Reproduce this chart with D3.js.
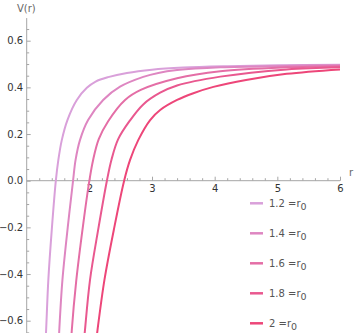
<!DOCTYPE html>
<html>
<head>
<meta charset="utf-8">
<script src="https://cdn.jsdelivr.net/npm/d3@7"></script>
<style>
  body { margin: 0; background: #fff; }
  svg { display: block; font-family: "DejaVu Sans", sans-serif; }
</style>
</head>
<body>
<div id="chart"></div>
<script>
// r0 values, one curve each
const r0s = [1.2, 1.4, 1.6, 1.8, 2]
const colors = ["#d9a0da", "#de86c1", "#e46ea6", "#e9588f", "#ed4679"]

// points: [r, V(r)]
const curve12 = [[1.295,-0.72],[1.31,-0.64],[1.345,-0.426],[1.40,-0.211],[1.465,0],[1.505,0.089],[1.56,0.174],[1.65,0.26],[1.80,0.346],[1.96,0.398],[2.10,0.425],[2.30,0.444],[2.60,0.462],[3.0,0.476],[3.5,0.485],[4.2,0.491],[5.0,0.495],[6,0.497]]
const curve14 = [[1.50,-0.76],[1.52,-0.64],[1.57,-0.426],[1.655,-0.20],[1.74,0],[1.78,0.089],[1.85,0.174],[1.98,0.26],[2.22,0.346],[2.49,0.403],[2.86,0.445],[3.10,0.462],[3.40,0.474],[4.09,0.486],[5.15,0.492],[6,0.495]]
const curve16 = [[1.70,-0.74],[1.72,-0.64],[1.79,-0.43],[1.90,-0.19],[2.0,0],[2.06,0.089],[2.15,0.178],[2.30,0.255],[2.57,0.346],[2.82,0.389],[3.40,0.439],[4.09,0.469],[5.15,0.486],[6,0.491]]
const curve18 = [[1.91,-0.70],[1.93,-0.64],[2.01,-0.426],[2.14,-0.211],[2.28,0],[2.355,0.092],[2.46,0.178],[2.64,0.255],[2.86,0.327],[3.13,0.377],[3.40,0.408],[4.09,0.446],[5.15,0.477],[6,0.486]]
const curve20 = [[2.11,-0.685],[2.13,-0.64],[2.24,-0.426],[2.39,-0.211],[2.555,0],[2.65,0.089],[2.78,0.174],[2.97,0.26],[3.13,0.303],[3.40,0.346],[3.66,0.375],[3.98,0.402],[4.5,0.432],[5.15,0.458],[6,0.477]]
const curves = [curve12, curve14, curve16, curve18, curve20]

const xMajor = [2, 3, 4, 5, 6]
const yMajor = [-0.6, -0.4, -0.2, 0, 0.2, 0.4, 0.6]

const width = 354
const height = 333

const x = d3.scaleLinear().domain([1, 6]).range([26.7, 340])
const y = d3.scaleLinear().domain([-0.6, 0.6]).range([320.7, 40.7])
const yBottom = -0.656
const yTop = 0.697

const svg = d3.select("#chart").append("svg")
  .attr("width", width)
  .attr("height", height)

svg.append("defs").append("clipPath").attr("id", "plot")
  .append("rect")
  .attr("x", x(1)).attr("y", y(yTop))
  .attr("width", x(6) - x(1) + 2)
  .attr("height", y(yBottom) - y(yTop))

const axisColor = "#a6a6a6"

// minor ticks
const xMinor = d3.range(12, 60, 2).map(d => d / 10).filter(d => d % 1 !== 0)
const yMinor = d3.range(-65, 70, 5).map(d => d / 100).filter(d => Math.round(d * 100) % 20 !== 0)

svg.append("g")
  .attr("transform", `translate(0,${y(0)})`)
  .call(d3.axisBottom(x).tickValues(xMinor).tickSizeInner(-2.5).tickSizeOuter(0).tickFormat(""))
  .call(g => g.select(".domain").remove())
  .call(g => g.selectAll("line").attr("stroke", axisColor))

svg.append("g")
  .attr("transform", `translate(${x(1)},0)`)
  .call(d3.axisLeft(y).tickValues(yMinor).tickSizeInner(-2.5).tickSizeOuter(0).tickFormat(""))
  .call(g => g.select(".domain").remove())
  .call(g => g.selectAll("line").attr("stroke", axisColor))

// major ticks
const gx = svg.append("g")
  .attr("transform", `translate(0,${y(0)})`)
  .call(d3.axisBottom(x).tickValues(xMajor).tickSizeInner(-4).tickSizeOuter(0).tickPadding(4).tickFormat(d3.format("d")))
gx.select(".domain").remove()
gx.selectAll("line").attr("stroke", axisColor)
gx.selectAll("text").attr("font-size", 10).attr("fill", "#333").attr("font-family", "DejaVu Sans")

const gy = svg.append("g")
  .attr("transform", `translate(${x(1)},0)`)
  .call(d3.axisLeft(y).tickValues(yMajor).tickSizeInner(-4).tickSizeOuter(0).tickPadding(3.5)
    .tickFormat(d => d3.format(".1f")(d)))
gy.select(".domain").remove()
gy.selectAll("line").attr("stroke", axisColor)
gy.selectAll("text").attr("font-size", 10).attr("fill", "#333").attr("font-family", "DejaVu Sans")

// axis lines
svg.append("line")
  .attr("x1", x(1)).attr("x2", x(6))
  .attr("y1", y(0)).attr("y2", y(0))
  .attr("stroke", axisColor)
svg.append("line")
  .attr("x1", x(1)).attr("x2", x(1))
  .attr("y1", y(yBottom)).attr("y2", y(yTop))
  .attr("stroke", axisColor)

// axis labels
svg.append("text")
  .attr("x", 17).attr("y", 12)
  .attr("font-size", 10).attr("fill", "#666")
  .text("V(r)")
svg.append("text")
  .attr("x", 349).attr("y", 176)
  .attr("font-size", 10).attr("fill", "#666")
  .text("r")

// curves
const line = d3.line()
  .x(d => x(d[0]))
  .y(d => y(d[1]))
  .curve(d3.curveCatmullRom.alpha(0.5))

svg.append("g")
  .attr("clip-path", "url(#plot)")
  .selectAll("path")
  .data(curves)
  .enter()
  .append("path")
  .attr("d", line)
  .attr("fill", "none")
  .attr("stroke", (d, i) => colors[i])
  .attr("stroke-width", 2)

// legend
const legend = svg.append("g")
  .selectAll("g")
  .data(r0s)
  .enter()
  .append("g")
  .attr("transform", (d, i) => `translate(250,${203.3 + i * 30})`)

legend.append("line")
  .attr("x1", 0).attr("x2", 13)
  .attr("stroke", (d, i) => colors[i])
  .attr("stroke-width", 2.5)

const lt = legend.append("text")
  .attr("x", 19).attr("y", 3.5)
  .attr("font-size", 10).attr("fill", "#555")
lt.append("tspan").text(d => d + " =r")
lt.append("tspan").attr("dy", 3).attr("font-size", 9.5).text("0")
</script>
</body>
</html>
